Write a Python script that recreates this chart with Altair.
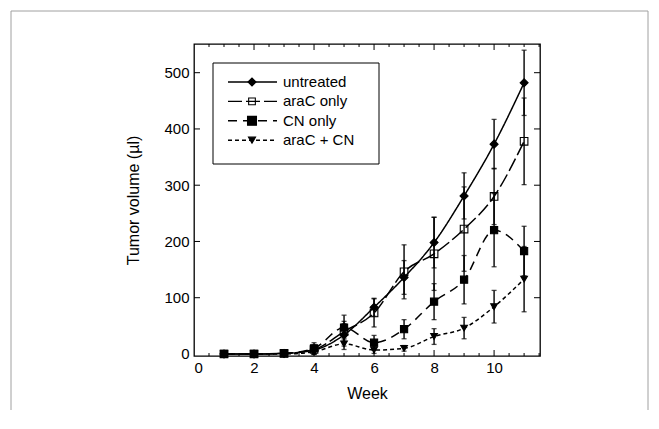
import altair as alt
import pandas as pd

weeks = [1, 2, 3, 4, 5, 6, 7, 8, 9, 10, 11]
series = ["untreated", "araC only", "CN only", "araC + CN"]
untreated = [0, 0, 1, 7, 34, 83, 136, 198, 281, 373, 482]
untreated_err = [1, 1, 2, 8, 20, 16, 30, 45, 41, 44, 58]
arac = [0, 0, 1, 8, 40, 73, 146, 178, 222, 280, 378]
arac_err = [1, 1, 2, 8, 18, 25, 48, 65, 75, 50, 77]
cn = [0, 0, 1, 10, 47, 20, 44, 93, 132, 220, 183]
cn_err = [1, 1, 2, 10, 22, 13, 17, 32, 43, 65, 44]
arac_cn = [0, 0, 0, 4, 18, 7, 10, 31, 46, 84, 133]
arac_cn_err = [1, 1, 1, 4, 10, 6, 5, 14, 19, 29, 58]

x_labels = [0, 2, 4, 6, 8, 10]
y_labels = [0, 100, 200, 300, 400, 500]
x_major_ticks = [2, 4, 6, 8, 10]
x_minor_ticks = [0.5, 1, 1.5, 2.5, 3, 3.5, 4.5, 5, 5.5, 6.5, 7, 7.5, 8.5, 9, 9.5, 10.5, 11, 11.5]
y_major_ticks = [100, 200, 300, 400, 500]

shapes = ["diamond", "square", "square", "triangle-down"]
fills = ["black", "transparent", "black", "black"]
dashes = [[1, 0], [14, 4], [9, 6], [4, 3]]
sizes = [64, 45, 80, 50]

W, H = 346, 312
FONT = "Liberation Sans"

rows = []
for name, vals, errs in zip(series, [untreated, arac, cn, arac_cn],
                            [untreated_err, arac_err, cn_err, arac_cn_err]):
    for w, v, e in zip(weeks, vals, errs):
        rows.append({"week": w, "series": name, "vol": v, "lo": v - e, "hi": v + e})
df = pd.DataFrame(rows)

xs = alt.Scale(domain=[0, 11.53], nice=False, zero=False)
ys = alt.Scale(domain=[-3.6, 551], nice=False, zero=False)
X = alt.X("week:Q", scale=xs,
          axis=alt.Axis(values=x_labels, title="Week", ticks=False, domain=False,
                        grid=False, labelFontSize=15, titleFontSize=16,
                        titleFontWeight="normal", labelPadding=4, titlePadding=10,
                        labelFont=FONT, titleFont=FONT, labelColor="black",
                        titleColor="black"))
Y = alt.Y("vol:Q", scale=ys,
          axis=alt.Axis(values=y_labels, title="Tumor volume (µl)", ticks=False,
                        domain=False, grid=False, labelFontSize=15, titleFontSize=16,
                        titleFontWeight="normal", labelPadding=5, titlePadding=22,
                        labelFont=FONT, titleFont=FONT, labelColor="black",
                        titleColor="black"))

base = alt.Chart(df)
dash_scale = alt.Scale(domain=series, range=dashes)

err = base.mark_rule(color="black", strokeWidth=1.4).encode(
    x=alt.X("week:Q", scale=xs), y=alt.Y("lo:Q", scale=ys), y2="hi:Q")
cap_lo = base.mark_tick(color="black", orient="horizontal", size=5, thickness=1.3).encode(
    x=alt.X("week:Q", scale=xs), y=alt.Y("lo:Q", scale=ys))
cap_hi = base.mark_tick(color="black", orient="horizontal", size=5, thickness=1.3).encode(
    x=alt.X("week:Q", scale=xs), y=alt.Y("hi:Q", scale=ys))

lines = base.mark_line(color="black", strokeWidth=1.5, interpolate="monotone").encode(
    x=X, y=Y,
    strokeDash=alt.StrokeDash("series:N", scale=dash_scale, legend=None),
    detail="series:N")

points = base.mark_point(filled=True, stroke="black", strokeWidth=1.1, opacity=1).encode(
    x=alt.X("week:Q", scale=xs), y=alt.Y("vol:Q", scale=ys),
    shape=alt.Shape("series:N", scale=alt.Scale(domain=series, range=shapes), legend=None),
    fill=alt.Fill("series:N", scale=alt.Scale(domain=series, range=fills), legend=None),
    size=alt.Size("series:N", scale=alt.Scale(domain=series, range=sizes), legend=None))

# inward ticks
def xticks(vals, length):
    d = pd.DataFrame({"t": vals})
    c = alt.Chart(d)
    bot = c.mark_rule(color="black", strokeWidth=1).encode(
        x=alt.X("t:Q", scale=xs), y=alt.value(H), y2=alt.value(H - length))
    top = c.mark_rule(color="black", strokeWidth=1).encode(
        x=alt.X("t:Q", scale=xs), y=alt.value(0), y2=alt.value(length))
    return [bot, top]

def yticks(vals, length):
    d = pd.DataFrame({"t": vals})
    c = alt.Chart(d)
    left = c.mark_rule(color="black", strokeWidth=1).encode(
        y=alt.Y("t:Q", scale=ys), x=alt.value(0), x2=alt.value(length))
    right = c.mark_rule(color="black", strokeWidth=1).encode(
        y=alt.Y("t:Q", scale=ys), x=alt.value(W), x2=alt.value(W - length))
    return [left, right]

tick_layers = xticks(x_major_ticks, 6) + xticks(x_minor_ticks, 3) + yticks(y_major_ticks, 6)

# legend
one = pd.DataFrame({"k": [0]})
legend_layers = [
    alt.Chart(one).mark_rect(fill="white", stroke="black", strokeWidth=1).encode(
        x=alt.value(19), x2=alt.value(185), y=alt.value(19), y2=alt.value(120))
]
for i, name in enumerate(series):
    ypx = 38 + i * 19.4
    d = pd.DataFrame({"label": [name]})
    c = alt.Chart(d)
    legend_layers.append(c.mark_rule(color="black", strokeWidth=1.4, strokeDash=dashes[i]).encode(
        x=alt.value(34), x2=alt.value(83), y=alt.value(ypx)))
    legend_layers.append(c.mark_point(filled=True, fill=fills[i], stroke="black", strokeWidth=1.1,
                                      shape=shapes[i], size=sizes[i], opacity=1).encode(
        x=alt.value(58), y=alt.value(ypx)))
    legend_layers.append(c.mark_text(align="left", baseline="middle", fontSize=15, font=FONT,
                                     color="black").encode(
        x=alt.value(89), y=alt.value(ypx), text="label:N"))

# outer figure frame (top, left, right edges only)
frame_style = dict(color="#a0a0a0", strokeWidth=1, clip=False)
frame = [
    alt.Chart(one).mark_rule(**frame_style).encode(
        x=alt.value(-183), x2=alt.value(454), y=alt.value(-33), y2=alt.value(-33)),
    alt.Chart(one).mark_rule(**frame_style).encode(
        x=alt.value(-183), x2=alt.value(-183), y=alt.value(-33), y2=alt.value(366)),
    alt.Chart(one).mark_rule(**frame_style).encode(
        x=alt.value(454), x2=alt.value(454), y=alt.value(-33), y2=alt.value(366)),
]

chart = alt.layer(*frame, lines, err, cap_lo, cap_hi, points, *tick_layers, *legend_layers).properties(
    width=W, height=H,
    autosize=alt.AutoSizeParams(type="none"),
    padding={"left": 186, "top": 36, "right": 111, "bottom": 60},
).configure(background="white").configure_view(stroke="black", strokeWidth=1.3)

chart.save("out.html", embed_options={"renderer": "svg", "actions": False})
